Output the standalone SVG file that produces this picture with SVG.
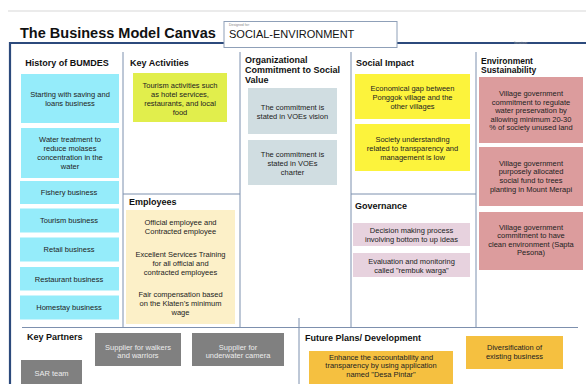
<svg xmlns="http://www.w3.org/2000/svg" width="586" height="384" viewBox="0 0 586 384">
<style>
text{font-family:"Liberation Sans",Arial,sans-serif;fill:#222}
.h{font-size:9px;font-weight:bold;fill:#111}
.t{font-size:7.5px;text-anchor:middle}
.w{font-size:7.5px;text-anchor:middle;fill:#ececec}
.ln{stroke:#7d90ae;stroke-width:1;fill:none}
.cy{fill:#95ecfa}.ka{fill:#e1ee4c}.cr{fill:#fcf0c8}.gb{fill:#d0dde1}.ye{fill:#fcf33c}.li{fill:#e7d2de}.ro{fill:#dc9c9d}.gr{fill:#808080}.or{fill:#f5c040}
</style>
<rect width="586" height="384" fill="#fff"/>
<line x1="8" y1="11" x2="586" y2="11" stroke="#e4e4e4" stroke-width="1.5"/>
<g id="frame">
<path d="M10 384 V43 H586" fill="none" stroke="#2c4a7c" stroke-width="2.2"/>
<text x="514" y="44" style="font-size:3.5px;fill:#9a9a9a">Iteration:</text>
</g>
<g id="title">
<text x="20" y="38" style="font-size:14.5px;font-weight:bold;fill:#111">The Business Model Canvas</text>
<rect x="224" y="21.5" width="173" height="26" fill="#fff" stroke="#8fa0b8" stroke-width="1"/>
<text x="229" y="26" style="font-size:3.5px;fill:#888">Designed for:</text>
<text x="229" y="38" style="font-size:11px;fill:#111">SOCIAL-ENVIRONMENT</text>
</g>
<g id="connectors">
<line class="ln" x1="123" y1="52" x2="123" y2="327"/>
<line class="ln" x1="240" y1="52" x2="240" y2="327"/>
<line class="ln" x1="351" y1="52" x2="351" y2="327"/>
<line class="ln" x1="476" y1="52" x2="476" y2="327"/>
<line class="ln" x1="123" y1="194" x2="240" y2="194"/>
<line class="ln" x1="351" y1="194" x2="476" y2="194"/>
<line class="ln" x1="22" y1="327.5" x2="578" y2="327.5"/>
<line class="ln" x1="299" y1="318" x2="299" y2="384"/>
</g>
<g id="history">
<text class="h" x="67" y="66" text-anchor="middle">History of BUMDES</text>
<rect class="cy" x="21" y="74" width="98" height="49"/>
<text class="t" x="70" y="96.7">Starting with saving and</text>
<text class="t" x="70" y="105.7">loans business</text>
<rect class="cy" x="21" y="128" width="98" height="50"/>
<text class="t" x="70" y="141.7">Water treatment to</text>
<text class="t" x="70" y="150.7">reduce molases</text>
<text class="t" x="70" y="159.7">concentration in the</text>
<text class="t" x="70" y="168.7">water</text>
<rect class="cy" x="20" y="181" width="99" height="23"/>
<text class="t" x="69" y="195.2">Fishery business</text>
<rect class="cy" x="20" y="208.5" width="99" height="24"/>
<text class="t" x="69" y="223.2">Tourism business</text>
<rect class="cy" x="20" y="237.5" width="99" height="24"/>
<text class="t" x="69" y="252">Retail business</text>
<rect class="cy" x="20" y="267" width="99" height="23.5"/>
<text class="t" x="69" y="281.5">Restaurant business</text>
<rect class="cy" x="20" y="295.5" width="99" height="24"/>
<text class="t" x="69" y="310.2">Homestay business</text>
</g>
<g id="key-activities">
<text class="h" x="130" y="66">Key Activities</text>
<rect class="ka" x="133" y="73" width="94" height="49"/>
<text class="t" x="180" y="87.7">Tourism activities such</text>
<text class="t" x="180" y="96.7">as hotel services,</text>
<text class="t" x="180" y="105.7">restaurants, and local</text>
<text class="t" x="180" y="114.7">food</text>
</g>
<g id="employees">
<text class="h" x="129" y="205">Employees</text>
<rect class="cr" x="126" y="210" width="109" height="114"/>
<text class="t" x="180.5" y="224.7">Official employee and</text>
<text class="t" x="180.5" y="233.7">Contracted employee</text>
<text class="t" x="180.5" y="256.7">Excellent Services Training</text>
<text class="t" x="180.5" y="265.7">for all official and</text>
<text class="t" x="180.5" y="274.7">contracted employees</text>
<text class="t" x="180.5" y="296.7">Fair compensation based</text>
<text class="t" x="180.5" y="305.7">on the Klaten’s minimum</text>
<text class="t" x="180.5" y="314.7">wage</text>
</g>
<g id="org-commitment">
<text class="h" x="245" y="63">Organizational</text>
<text class="h" x="245" y="73">Commitment to Social</text>
<text class="h" x="245" y="83">Value</text>
<rect class="gb" x="248" y="88" width="89" height="46"/>
<text class="t" x="292.5" y="109.7">The commitment is</text>
<text class="t" x="292.5" y="118.7">stated in VOEs vision</text>
<rect class="gb" x="248" y="140" width="89" height="45"/>
<text class="t" x="292.5" y="156.7">The commitment is</text>
<text class="t" x="292.5" y="165.7">stated in VOEs</text>
<text class="t" x="292.5" y="174.7">charter</text>
</g>
<g id="social-impact">
<text class="h" x="356" y="66">Social Impact</text>
<rect class="ye" x="355" y="74" width="115" height="45"/>
<text class="t" x="412.5" y="90.7">Economical gap between</text>
<text class="t" x="412.5" y="99.7">Ponggok village and the</text>
<text class="t" x="412.5" y="108.7">other villages</text>
<rect class="ye" x="355" y="124" width="115" height="47"/>
<text class="t" x="412.5" y="141.7">Society understanding</text>
<text class="t" x="412.5" y="150.7">related to transparency and</text>
<text class="t" x="412.5" y="159.7">management is low</text>
</g>
<g id="governance">
<text class="h" x="355" y="209">Governance</text>
<rect class="li" x="353" y="223" width="117" height="23"/>
<text class="t" x="411.5" y="233.4">Decision making process</text>
<text class="t" x="411.5" y="241.9">involving bottom to up ideas</text>
<rect class="li" x="353" y="253" width="117" height="24"/>
<text class="t" x="411.5" y="264.2">Evaluation and monitoring</text>
<text class="t" x="411.5" y="272.7">called "rembuk warga"</text>
</g>
<g id="environment">
<text class="h" x="481" y="64" style="font-size:8.5px">Environment</text>
<text class="h" x="481" y="73" style="font-size:8.5px">Sustainability</text>
<rect class="ro" x="479" y="77" width="104" height="66"/>
<text class="t" x="531" y="96">Village government</text>
<text class="t" x="531" y="104.6">commitment to regulate</text>
<text class="t" x="531" y="113.2">water preservation by</text>
<text class="t" x="531" y="121.8">allowing minimum 20-30</text>
<text class="t" x="531" y="130.4">% of society unused land</text>
<rect class="ro" x="479" y="147" width="104" height="59"/>
<text class="t" x="531" y="165.7">Village government</text>
<text class="t" x="531" y="174.4">purposely allocated</text>
<text class="t" x="531" y="183.1">social fund to trees</text>
<text class="t" x="531" y="191.8">planting in Mount Merapi</text>
<rect class="ro" x="479" y="212" width="104" height="58"/>
<text class="t" x="531" y="229.7">Village government</text>
<text class="t" x="531" y="238.2">commitment to have</text>
<text class="t" x="531" y="246.7">clean environment (Sapta</text>
<text class="t" x="531" y="255.2">Pesona)</text>
</g>
<g id="key-partners">
<text class="h" x="27" y="340">Key Partners</text>
<rect class="gr" x="95" y="333" width="86" height="33"/>
<text class="w" x="138" y="349.5">Supplier for walkers</text>
<text class="w" x="138" y="357.5">and warriors</text>
<rect class="gr" x="192" y="333" width="92" height="33"/>
<text class="w" x="238" y="349.5">Supplier for</text>
<text class="w" x="238" y="357.5">underwater camera</text>
<rect class="gr" x="21" y="360" width="61" height="24"/>
<text class="w" x="51.5" y="375.5">SAR team</text>
</g>
<g id="future-plans">
<text class="h" x="305" y="341">Future Plans/ Development</text>
<rect class="or" x="309" y="351" width="144" height="33"/>
<text class="t" x="381" y="359.7">Enhance the accountability and</text>
<text class="t" x="381" y="368.2">transparency by using application</text>
<text class="t" x="381" y="376.7">named "Desa Pintar"</text>
<rect class="or" x="466" y="336" width="97" height="33"/>
<text class="t" x="514.5" y="349.7">Diversification of</text>
<text class="t" x="514.5" y="358.7">existing business</text>
</g>
</svg>
